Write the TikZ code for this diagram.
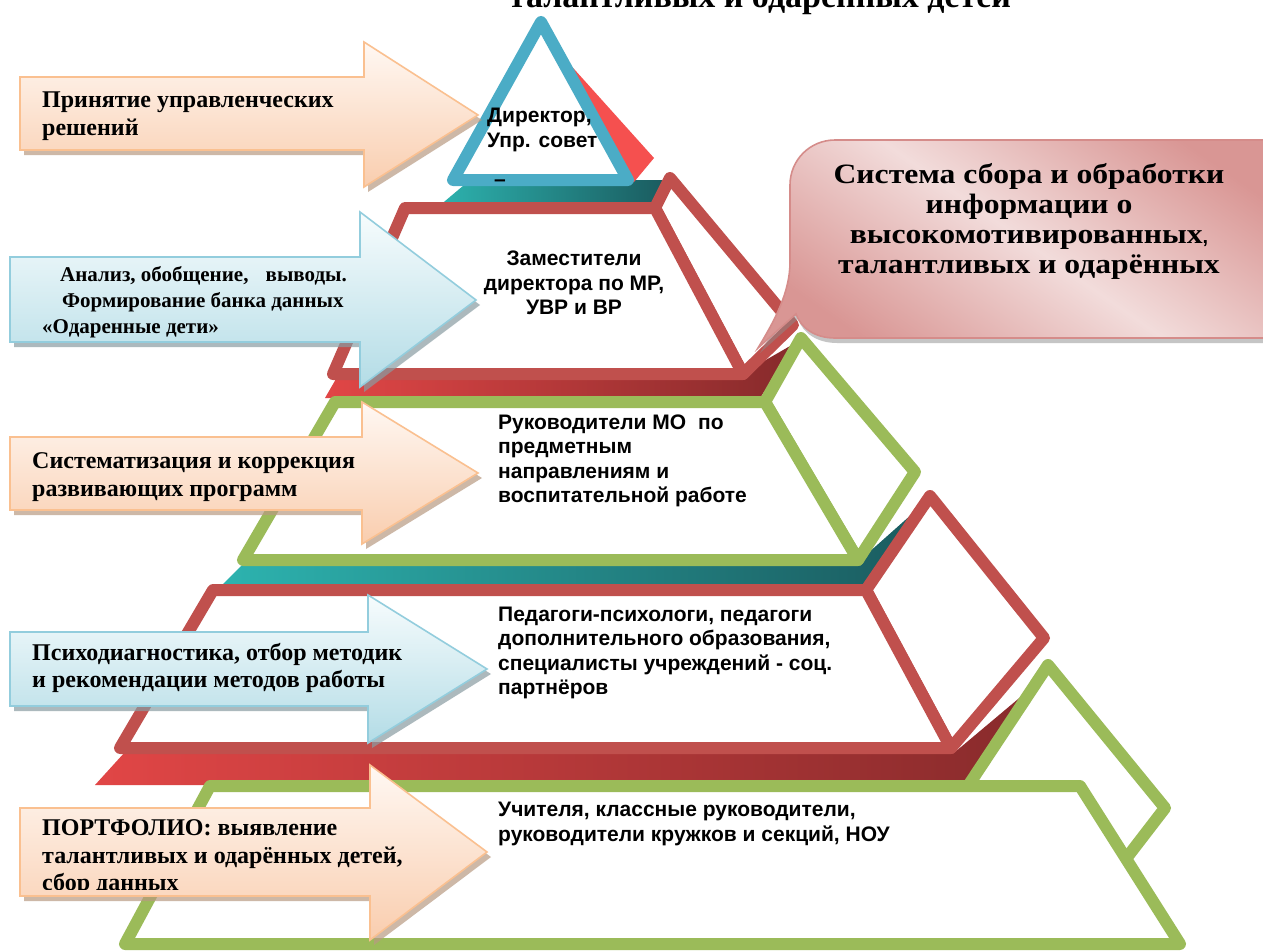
\documentclass[tikz,border=0pt]{standalone}
\usepackage{fontspec}
\setmainfont{Liberation Serif}
\newfontfamily\pyrfont{Liberation Sans}
\newfontfamily\widefont[FakeStretch=1.13]{Liberation Serif}
\usetikzlibrary{shadows}
\definecolor{mblue}{HTML}{4BACC6}
\definecolor{mred}{HTML}{C0504D}
\definecolor{mgreen}{HTML}{9BBB59}
\definecolor{mbright}{HTML}{F5504F}
\definecolor{tealA}{HTML}{2DB3AF}
\definecolor{tealB}{HTML}{1A5A5E}
\definecolor{redA}{HTML}{E14646}
\definecolor{redB}{HTML}{862A2B}
\definecolor{orline}{HTML}{FAC090}
\definecolor{ortop}{HTML}{FFF8F3}
\definecolor{orbot}{HTML}{F9CDAE}
\definecolor{orshade}{HTML}{B89A82}
\definecolor{blline}{HTML}{93CDDD}
\definecolor{bltop}{HTML}{F7FCFD}
\definecolor{blbot}{HTML}{B3DCE6}
\definecolor{blshade}{HTML}{8A9CA2}
\definecolor{pkline}{HTML}{D58C8A}
\definecolor{pklight}{HTML}{F2DCDB}
\definecolor{pkdark}{HTML}{D99694}
\tikzstyle{l1}=[line width=12, line join=round]
\tikzstyle{trap}=[l1, fill=white]
\tikzstyle{tealslab}=[left color=tealA, right color=tealB]
\tikzstyle{redslab}=[left color=redA, right color=redB]
\tikzstyle{barrow}=[line width=1.6, line join=miter]
\tikzstyle{orarrow}=[barrow, draw=orline, top color=ortop, bottom color=orbot, drop shadow={shadow xshift=4pt, shadow yshift=-5pt, fill=orshade, opacity=0.7}]
\tikzstyle{blarrow}=[barrow, draw=blline, top color=bltop, bottom color=blbot, drop shadow={shadow xshift=4pt, shadow yshift=-5pt, fill=blshade, opacity=0.7}]
\tikzstyle{bubble}=[line width=1.6, draw=pkline, top color=pkdark, bottom color=pkdark, middle color=pklight, shading angle=-35, drop shadow={shadow xshift=2pt, shadow yshift=-5pt, fill=black!45, opacity=0.5}]
\tikzstyle{arrtext}=[font=\bfseries\fontsize{24}{27.5}\selectfont, align=left, anchor=west, inner sep=0]
\tikzstyle{pyrtext}=[font=\pyrfont\bfseries\fontsize{21}{24.5}\selectfont, align=left, anchor=west, inner sep=0]

\begin{document}
\begin{tikzpicture}[x=1pt, y=-1pt]
    \useasboundingbox[fill=white] (0,0) rectangle (1263,950);

    % slabs between the layers
    \path[tealslab] (470,180) -- (668,180) -- (648,207) -- (438,207) -- cycle;
    \path[redslab] (340,372) -- (745,372) -- (797,342) -- (760,398) -- (325,398) -- cycle;
    \path[tealslab] (245,562) -- (858,562) -- (930,498) -- (868,585) -- (222,585) -- cycle;
    \path[redslab] (125,752) -- (955,752) -- (1055,668) -- (985,785) -- (95,785) -- cycle;

    % layer 1
    \fill[mbright] (548,40) -- (654,158) -- (634,182) -- (600,182) -- cycle;
    \draw[l1, draw=mblue, fill=white] (541,22) -- (628,180) -- (453,180) -- cycle;

    % layer 2
    \draw[trap, draw=mred] (655,208) -- (670,178) -- (793,325) -- (743,374) -- cycle;
    \draw[trap, draw=mred] (405,208) -- (655,208) -- (743,374) -- (333,374) -- cycle;

    % callout
    \path[bubble] (835,140) -- (1300,140) -- (1300,338) -- (835,338)
        .. controls (815,338) and (801,328) .. (796,314) -- (758,348)
        .. controls (775,320) and (790,292) .. (790,262) -- (790,185)
        .. controls (790,160) and (810,140) .. (835,140) -- cycle;

    % layer 3
    \draw[trap, draw=mgreen] (765,402) -- (801,338) -- (915,472) -- (858,560) -- cycle;
    \draw[trap, draw=mgreen] (335,402) -- (765,402) -- (858,560) -- (243,560) -- cycle;

    % layer 4
    \draw[trap, draw=mred] (866,590) -- (930,496) -- (1044,638) -- (951,748) -- cycle;
    \draw[trap, draw=mred] (213,590) -- (866,590) -- (951,748) -- (120,748) -- cycle;

    % layer 5
    \draw[trap, draw=mgreen] (968,786) -- (1048,665) -- (1165,808) -- (1125,860) -- (1080,850) -- cycle;
    \draw[trap, draw=mgreen] (210,786) -- (1080,786) -- (1180,944) -- (125,944) -- cycle;

    % arrows
    \path[orarrow] (20,77) -- (364,77) -- (364,42) -- (478,115) -- (364,187) -- (364,150) -- (20,150) -- cycle;
    \path[blarrow] (10,257) -- (360,257) -- (360,212) -- (476,300) -- (360,387) -- (360,342) -- (10,342) -- cycle;
    \path[orarrow] (10,437) -- (362,437) -- (362,402) -- (478,473) -- (362,544) -- (362,510) -- (10,510) -- cycle;
    \path[blarrow] (10,632) -- (368,632) -- (368,595) -- (487,669) -- (368,743) -- (368,706) -- (10,706) -- cycle;
    \path[orarrow] (20,808) -- (370,808) -- (370,765) -- (487,852) -- (370,940) -- (370,896) -- (20,896) -- cycle;

    % texts
    \node[font=\bfseries\fontsize{34}{34}\selectfont, anchor=base] at (760,8) (title) {талантливых и одарённых детей};
    \node[arrtext] at (42,116) (a1) {Принятие управленческих\\решений};
    \node[arrtext, font=\bfseries\fontsize{21}{26}\selectfont] at (42,302) (a2) {\hspace*{18pt}Анализ, обобщение,\hspace{12pt} выводы.\\\hspace*{20pt}Формирование банка данных\\«Одаренные дети»};
    \node[arrtext] at (32,477) (a3) {Систематизация и коррекция\\развивающих программ};
    \node[arrtext] at (32,668) (a4) {Психодиагностика, отбор методик\\и рекомендации методов работы};
    \begin{scope}
        \clip (20,808) -- (370,808) -- (370,765) -- (487,852) -- (370,940) -- (370,889) -- (20,889) -- cycle;
        \node[arrtext] at (42,858) (a5) {ПОРТФОЛИО: выявление\\талантливых и одарённых детей,\\сбор данных};
    \end{scope}

    \node[pyrtext] at (487,130) (p1) {Директор,\\Упр. совет};
    \node[pyrtext] at (494,183) (p1d) {–};
    \node[pyrtext, align=center, anchor=center] at (574,283) (p2) {Заместители\\директора по МР,\\УВР и ВР};
    \node[pyrtext] at (498,461) (p3) {Руководители МО\hspace{6pt} по\\предметным\\направлениям и\\воспитательной работе};
    \node[pyrtext] at (498,653) (p4) {Педагоги-психологи, педагоги\\дополнительного образования,\\специалисты учреждений - соц.\\партнёров};
    \node[pyrtext] at (498,824) (p5) {Учителя, классные руководители,\\руководители кружков и секций, НОУ};

    \node[font=\widefont\bfseries\fontsize{28}{30}\selectfont, align=center] at (1029,221) (info) {Система сбора и обработки\\информации о\\высокомотивированных{\pyrfont\fontsize{20}{20}\selectfont,}\\талантливых и одарённых};
\end{tikzpicture}
\end{document}
